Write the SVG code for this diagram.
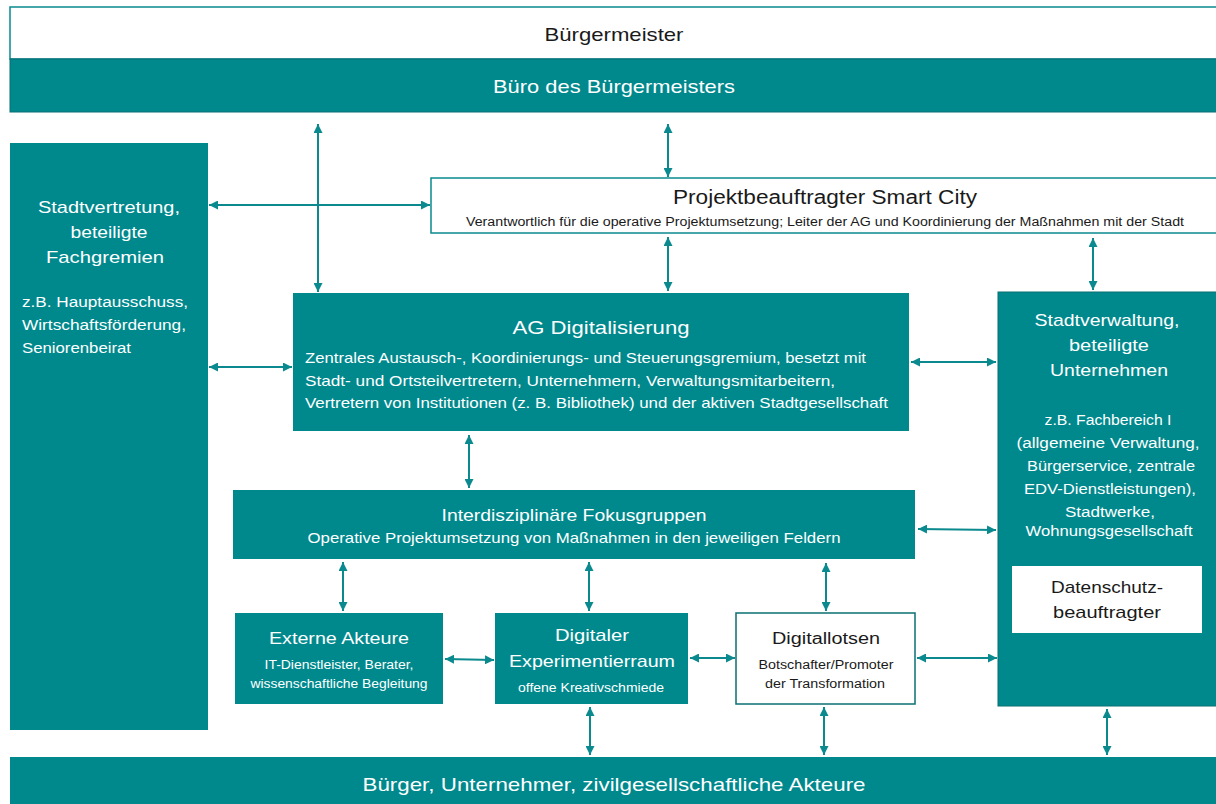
<svg xmlns="http://www.w3.org/2000/svg" width="1216" height="804" viewBox="0 0 1216 804">
  <style>
    text { font-family: "Liberation Sans", Arial, sans-serif; text-anchor: middle; }
    .teal { fill: #00898D; }
    .w { fill: #ffffff; }
    .k { fill: #1a1a1a; }
    .left { text-anchor: start; }
    .conn { stroke: #0A8A8E; stroke-width: 2; fill: none; marker-start: url(#ah); marker-end: url(#ah); }
  </style>
  <defs>
    <marker id="ah" viewBox="0 0 10 10" refX="10" refY="5" markerWidth="9" markerHeight="9" markerUnits="userSpaceOnUse" orient="auto-start-reverse">
      <path d="M0,0 L10,5 L0,10 Z" fill="#0A8A8E"/>
    </marker>
  </defs>

  <rect width="1216" height="804" fill="#ffffff"/>

  <!-- Mayor and mayor's office -->
  <g id="buergermeister">
    <rect x="10" y="7" width="1212" height="52" fill="#ffffff" stroke="#0A8A8E" stroke-width="1.5"/>
    <text x="614" y="41" font-size="19" class="k" textLength="139" lengthAdjust="spacingAndGlyphs">Bürgermeister</text>
  </g>
  <g id="buero">
    <rect x="10" y="59" width="1212" height="53" class="teal" stroke="#0B6F72" stroke-width="1"/>
    <text x="614" y="93" font-size="19" class="w" textLength="242" lengthAdjust="spacingAndGlyphs">Büro des Bürgermeisters</text>
  </g>

  <!-- City council -->
  <g id="stadtvertretung">
    <rect x="10" y="143" width="198" height="587" class="teal"/>
    <text x="109" y="213" font-size="17" class="w" textLength="142" lengthAdjust="spacingAndGlyphs">Stadtvertretung,</text>
    <text x="109" y="238" font-size="17" class="w" textLength="77" lengthAdjust="spacingAndGlyphs">beteiligte</text>
    <text x="105" y="263" font-size="17" class="w" textLength="118" lengthAdjust="spacingAndGlyphs">Fachgremien</text>
    <text x="22" y="307" font-size="14" class="w left" textLength="166" lengthAdjust="spacingAndGlyphs">z.B. Hauptausschuss,</text>
    <text x="22" y="330" font-size="14" class="w left" textLength="164" lengthAdjust="spacingAndGlyphs">Wirtschaftsförderung,</text>
    <text x="22" y="353" font-size="14" class="w left" textLength="109" lengthAdjust="spacingAndGlyphs">Seniorenbeirat</text>
  </g>

  <!-- Smart City project lead -->
  <g id="projektbeauftragter">
    <rect x="431" y="178" width="790" height="55" fill="#ffffff" stroke="#0A8A8E" stroke-width="1.5"/>
    <text x="825" y="204" font-size="20" class="k" textLength="304" lengthAdjust="spacingAndGlyphs">Projektbeauftragter Smart City</text>
    <text x="825" y="226" font-size="12.5" class="k" textLength="718" lengthAdjust="spacingAndGlyphs">Verantwortlich für die operative Projektumsetzung; Leiter der AG und Koordinierung der Maßnahmen mit der Stadt</text>
  </g>

  <!-- Working group -->
  <g id="ag-digitalisierung">
    <rect x="293" y="293" width="616" height="138" class="teal"/>
    <text x="601" y="334" font-size="19" class="w" textLength="177" lengthAdjust="spacingAndGlyphs">AG Digitalisierung</text>
    <text x="305" y="363" font-size="14.5" class="w left" textLength="561" lengthAdjust="spacingAndGlyphs">Zentrales Austausch-, Koordinierungs- und Steuerungsgremium, besetzt mit</text>
    <text x="305" y="386" font-size="14.5" class="w left" textLength="530" lengthAdjust="spacingAndGlyphs">Stadt- und Ortsteilvertretern, Unternehmern, Verwaltungsmitarbeitern,</text>
    <text x="305" y="408" font-size="14.5" class="w left" textLength="583" lengthAdjust="spacingAndGlyphs">Vertretern von Institutionen (z. B. Bibliothek) und der aktiven Stadtgesellschaft</text>
  </g>

  <!-- City administration -->
  <g id="stadtverwaltung">
    <rect x="998" y="292" width="222" height="414" class="teal" stroke="#0B6F72" stroke-width="1"/>
    <text x="1107" y="326" font-size="17" class="w" textLength="145" lengthAdjust="spacingAndGlyphs">Stadtverwaltung,</text>
    <text x="1109" y="351" font-size="17" class="w" textLength="80" lengthAdjust="spacingAndGlyphs">beteiligte</text>
    <text x="1109" y="376" font-size="17" class="w" textLength="118" lengthAdjust="spacingAndGlyphs">Unternehmen</text>
    <text x="1108" y="425" font-size="14" class="w" textLength="127" lengthAdjust="spacingAndGlyphs">z.B. Fachbereich I</text>
    <text x="1108" y="448" font-size="14" class="w" textLength="183" lengthAdjust="spacingAndGlyphs">(allgemeine Verwaltung,</text>
    <text x="1111" y="471" font-size="14" class="w" textLength="168" lengthAdjust="spacingAndGlyphs">Bürgerservice, zentrale</text>
    <text x="1110" y="494" font-size="14" class="w" textLength="172" lengthAdjust="spacingAndGlyphs">EDV-Dienstleistungen),</text>
    <text x="1110" y="517" font-size="14" class="w" textLength="90" lengthAdjust="spacingAndGlyphs">Stadtwerke,</text>
    <text x="1109" y="536" font-size="14" class="w" textLength="167" lengthAdjust="spacingAndGlyphs">Wohnungsgesellschaft</text>
  </g>
  <g id="datenschutz">
    <rect x="1012" y="566" width="190" height="67" fill="#ffffff"/>
    <text x="1107" y="593" font-size="17" class="k" textLength="112" lengthAdjust="spacingAndGlyphs">Datenschutz-</text>
    <text x="1107" y="618" font-size="17" class="k" textLength="108" lengthAdjust="spacingAndGlyphs">beauftragter</text>
  </g>

  <!-- Focus groups -->
  <g id="fokusgruppen">
    <rect x="233" y="490" width="682" height="69" class="teal"/>
    <text x="574" y="521" font-size="17" class="w" textLength="265" lengthAdjust="spacingAndGlyphs">Interdisziplinäre Fokusgruppen</text>
    <text x="574" y="543" font-size="14.5" class="w" textLength="533" lengthAdjust="spacingAndGlyphs">Operative Projektumsetzung von Maßnahmen in den jeweiligen Feldern</text>
  </g>

  <!-- Bottom row actors -->
  <g id="externe-akteure">
    <rect x="235" y="613" width="208" height="91" class="teal"/>
    <text x="339" y="644" font-size="16" class="w" textLength="140" lengthAdjust="spacingAndGlyphs">Externe Akteure</text>
    <text x="339" y="669" font-size="12.5" class="w" textLength="149" lengthAdjust="spacingAndGlyphs">IT-Dienstleister, Berater,</text>
    <text x="339" y="688" font-size="12.5" class="w" textLength="177" lengthAdjust="spacingAndGlyphs">wissenschaftliche Begleitung</text>
  </g>
  <g id="experimentierraum">
    <rect x="495" y="613" width="193" height="91" class="teal"/>
    <text x="592" y="641" font-size="17" class="w" textLength="74" lengthAdjust="spacingAndGlyphs">Digitaler</text>
    <text x="592" y="667" font-size="17" class="w" textLength="166" lengthAdjust="spacingAndGlyphs">Experimentierraum</text>
    <text x="591" y="692" font-size="12.5" class="w" textLength="146" lengthAdjust="spacingAndGlyphs">offene Kreativschmiede</text>
  </g>
  <g id="digitallotsen">
    <rect x="736" y="613" width="179" height="91" fill="#ffffff" stroke="#0B6F72" stroke-width="1.5"/>
    <text x="826" y="644" font-size="16" class="k" textLength="108" lengthAdjust="spacingAndGlyphs">Digitallotsen</text>
    <text x="826" y="669" font-size="12.5" class="k" textLength="135" lengthAdjust="spacingAndGlyphs">Botschafter/Promoter</text>
    <text x="825" y="688" font-size="12.5" class="k" textLength="120" lengthAdjust="spacingAndGlyphs">der Transformation</text>
  </g>

  <!-- Citizens -->
  <g id="buerger">
    <rect x="10" y="757" width="1212" height="50" class="teal"/>
    <text x="614" y="791" font-size="19" class="w" textLength="503" lengthAdjust="spacingAndGlyphs">Bürger, Unternehmer, zivilgesellschaftliche Akteure</text>
  </g>

  <!-- Two-way connectors -->
  <g id="connectors">
    <line class="conn" x1="318" y1="124" x2="318" y2="292"/>
    <line class="conn" x1="209" y1="205" x2="430" y2="205"/>
    <line class="conn" x1="668" y1="124" x2="668" y2="177"/>
    <line class="conn" x1="668" y1="237" x2="668" y2="291"/>
    <line class="conn" x1="1093" y1="238" x2="1093" y2="290"/>
    <line class="conn" x1="209" y1="367" x2="292" y2="367"/>
    <line class="conn" x1="911" y1="362" x2="996" y2="362"/>
    <line class="conn" x1="469" y1="435" x2="469" y2="488"/>
    <line class="conn" x1="918" y1="529" x2="996" y2="530"/>
    <line class="conn" x1="343" y1="562" x2="343" y2="611"/>
    <line class="conn" x1="589" y1="562" x2="589" y2="611"/>
    <line class="conn" x1="826" y1="563" x2="826" y2="611"/>
    <line class="conn" x1="445" y1="659" x2="494" y2="660"/>
    <line class="conn" x1="690" y1="658" x2="735" y2="658"/>
    <line class="conn" x1="917" y1="658" x2="997" y2="658"/>
    <line class="conn" x1="590" y1="707" x2="590" y2="755"/>
    <line class="conn" x1="824" y1="707" x2="824" y2="755"/>
    <line class="conn" x1="1107" y1="709" x2="1107" y2="755"/>
  </g>
</svg>
